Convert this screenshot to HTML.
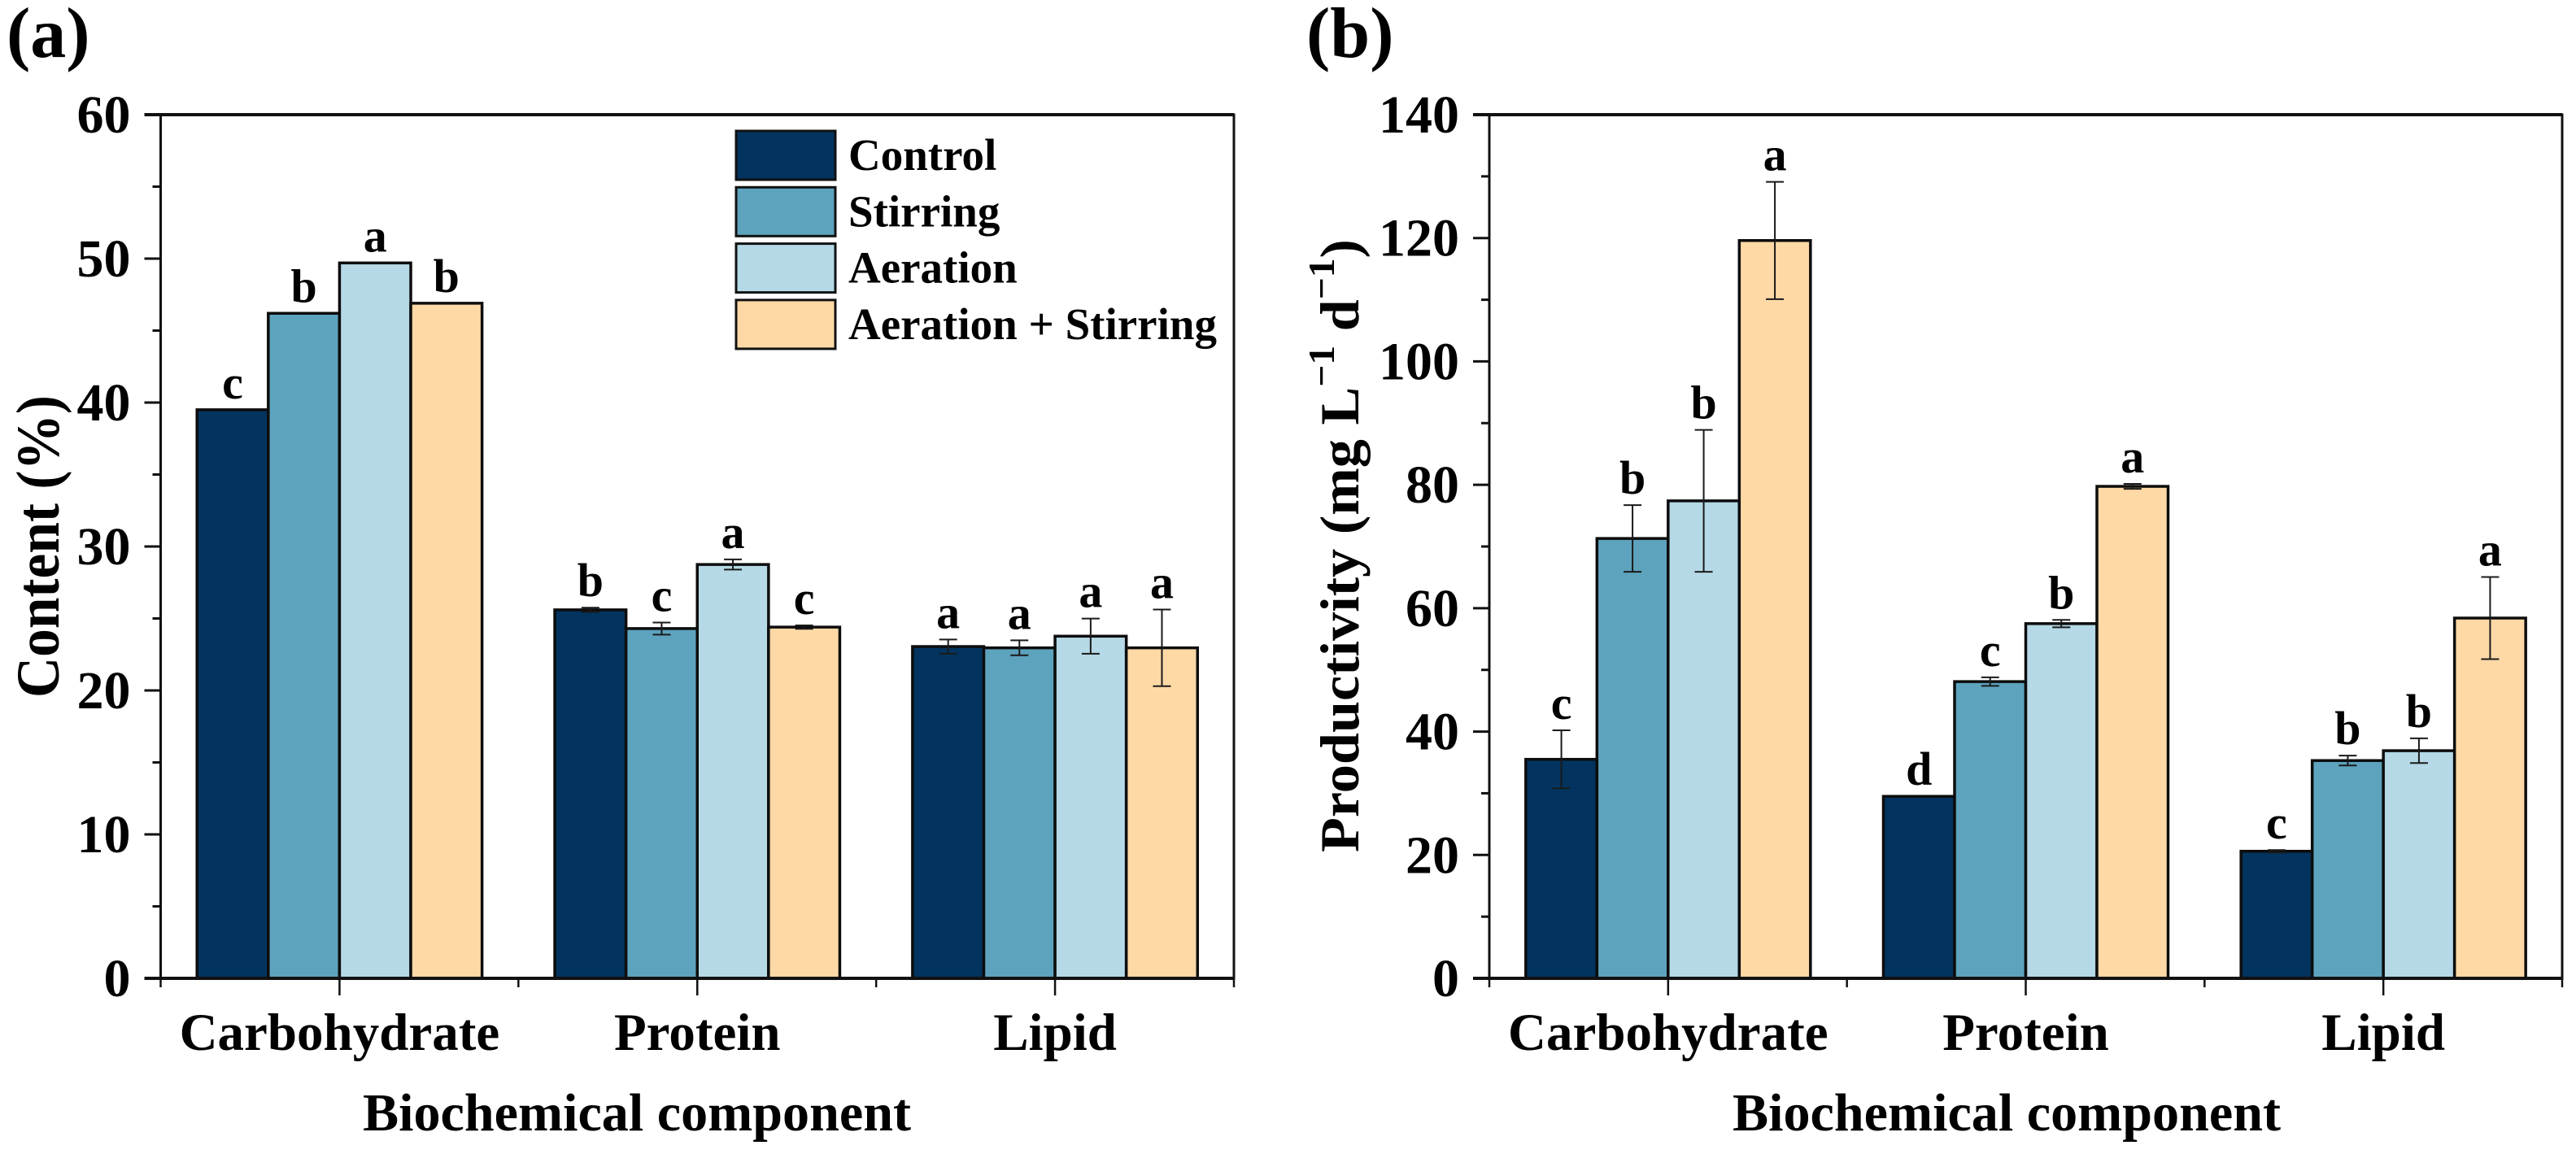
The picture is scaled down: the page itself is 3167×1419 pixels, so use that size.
<!DOCTYPE html>
<html lang="en">
<head>
<meta charset="utf-8">
<title>Biochemical component content and productivity</title>
<style>
html,body{margin:0;padding:0;background:#fff;width:3167px;height:1419px;overflow:hidden}
svg{display:block}
text{font-family:"Liberation Serif",serif;font-weight:bold;fill:#000}
</style>
</head>
<body>
<svg id="chart" xmlns="http://www.w3.org/2000/svg" width="3167" height="1419" viewBox="0 0 3167 1419">
<text x="8" y="70" font-size="88">(a)</text>
<text x="1606" y="70" font-size="88">(b)</text>
<text transform="translate(72,858) rotate(-90)" font-size="75" textLength="372" lengthAdjust="spacingAndGlyphs">Content (%)</text>
<text x="446" y="1390" font-size="66" textLength="674" lengthAdjust="spacingAndGlyphs">Biochemical component</text>
<text transform="translate(1670,1048) rotate(-90) scale(1.033,1)" font-size="68">Productivity (mg L<tspan font-size="46" dy="-30">−1</tspan><tspan dy="30"> d</tspan><tspan font-size="46" dy="-30">−1</tspan><tspan dy="30">)</tspan></text>
<text x="2130" y="1390" font-size="66" textLength="674" lengthAdjust="spacingAndGlyphs">Biochemical component</text>
</svg>
<script>
var categories = ['Carbohydrate', 'Protein', 'Lipid'];
var seriesNames = ['Control', 'Stirring', 'Aeration', 'Aeration + Stirring'];

var contentTicks = [0, 10, 20, 30, 40, 50, 60];
var contentControl = [39.5, 25.6, 23.05];
var contentStirring = [46.2, 24.3, 22.96];
var contentAeration = [49.7, 28.75, 23.77];
var contentBoth = [46.9, 24.4, 22.96];
var contentControlErr = [0, 0.15, 0.49];
var contentStirringErr = [0, 0.42, 0.52];
var contentAerationErr = [0, 0.35, 1.22];
var contentBothErr = [0, 0.12, 2.66];
var contentControlLetters = ['c', 'b', 'a'];
var contentStirringLetters = ['b', 'c', 'a'];
var contentAerationLetters = ['a', 'a', 'a'];
var contentBothLetters = ['b', 'c', 'a'];

var prodTicks = [0, 20, 40, 60, 80, 100, 120, 140];
var prodControl = [35.5, 29.5, 20.6];
var prodStirring = [71.3, 48.1, 35.3];
var prodAeration = [77.4, 57.5, 36.9];
var prodBoth = [119.6, 79.75, 58.4];
var prodControlErr = [4.7, 0, 0.2];
var prodStirringErr = [5.4, 0.7, 0.8];
var prodAerationErr = [11.5, 0.6, 2];
var prodBothErr = [9.5, 0.4, 6.65];
var prodControlLetters = ['c', 'd', 'c'];
var prodStirringLetters = ['b', 'c', 'b'];
var prodAerationLetters = ['b', 'b', 'b'];
var prodBothLetters = ['a', 'a', 'a'];

var seriesColors = ['#02345f', '#5da3bd', '#b5d9e6', '#fed9a6'];
var svgNS = 'http://www.w3.org/2000/svg';
var svg = document.getElementById('chart');

function make(tag, attrs, parent) {
  var el = document.createElementNS(svgNS, tag);
  for (var k in attrs) el.setAttribute(k, attrs[k]);
  parent.appendChild(el);
  return el;
}

function drawPanel(p) {
  var g = make('g', {}, svg);
  
  
  var yMax = p.ticks[p.ticks.length - 1];
  var groupW = (p.right - p.left) / categories.length;
  var barW = p.barW;
  function yScale(v) { return p.bottom - (v / yMax) * (p.bottom - p.top); }
  function xCenter(k) { return p.left + (k + 0.5) * groupW; }
  function xBar(k, s) { return xCenter(k) + (s - seriesNames.length / 2) * barW; }

  for (var s = 0; s < seriesNames.length; s++) {
    for (var k = 0; k < categories.length; k++) {
      var v = p.values[s][k], e = p.errors[s][k];
      var bar = make('rect', {x: xBar(k, s), y: yScale(v), width: barW, height: p.bottom - yScale(v), fill: seriesColors[s], stroke: '#0d0d0d', 'stroke-width': 3.5}, g);
      
      
    }
  }
  for (s = 0; s < seriesNames.length; s++) {
    for (k = 0; k < categories.length; k++) {
      v = p.values[s][k]; e = p.errors[s][k];
      var cx = xBar(k, s) + barW / 2;
      var err = make('path', {d: e > 0 ? 'M' + (cx - 11) + ' ' + yScale(v + e) + 'H' + (cx + 11) + 'M' + cx + ' ' + yScale(v + e) + 'V' + yScale(v - e) + 'M' + (cx - 11) + ' ' + yScale(v - e) + 'H' + (cx + 11) : '', fill: 'none', stroke: '#1a1a1a', 'stroke-width': 2}, g);
      
      
      var letter = make('text', {x: cx, y: yScale(v + e) - 14, 'font-size': 58, 'text-anchor': 'middle'}, g);
      letter.textContent = p.letters[s][k];
      
      
    }
  }

  var frame = make('path', {d: 'M' + p.left + ' ' + p.top + 'H' + p.right + 'V' + p.bottom + 'H' + p.left + 'Z', fill: 'none', stroke: '#111', 'stroke-width': 3}, g);
  
  
  var topLine = make('path', {d: 'M' + (p.left - 20) + ' ' + p.top + 'H' + p.right + 'M' + (p.left - 20) + ' ' + p.bottom + 'H' + p.right, fill: 'none', stroke: '#111', 'stroke-width': 4}, g);
  
  

  for (var i = 0; i < p.ticks.length; i++) {
    var ty = yScale(p.ticks[i]);
    var tick = make('line', {x1: p.left - 20, x2: p.left, y1: ty, y2: ty, stroke: '#111', 'stroke-width': 3}, g);
    
    
    var lab = make('text', {x: p.left - 37, y: ty + 22, 'font-size': 66, 'text-anchor': 'end'}, g);
    lab.textContent = p.ticks[i];
    
    
    if (i < p.ticks.length - 1) {
      var my = yScale((p.ticks[i] + p.ticks[i + 1]) / 2);
      var minor = make('line', {x1: p.left - 10, x2: p.left, y1: my, y2: my, stroke: '#111', 'stroke-width': 3}, g);
      
      
    }
  }
  for (k = 0; k < categories.length; k++) {
    var tx = xCenter(k);
    var xt = make('line', {x1: tx, x2: tx, y1: p.bottom, y2: p.bottom + 21, stroke: '#111', 'stroke-width': 2.5}, g);
    
    
    var xl = make('text', {x: tx, y: 1291, 'font-size': 65, 'text-anchor': 'middle'}, g);
    xl.textContent = categories[k];
    
    
  }
  for (k = 0; k <= categories.length; k++) {
    var mx = p.left + k * groupW;
    var xm = make('line', {x1: mx, x2: mx, y1: p.bottom, y2: p.bottom + 11, stroke: '#111', 'stroke-width': 2.5}, g);
    
    
  }
}

drawPanel({
  id: 'panel-a', left: 197.5, right: 1517, top: 141, bottom: 1203, barW: 87.6, ticks: contentTicks,
  values: [contentControl, contentStirring, contentAeration, contentBoth],
  errors: [contentControlErr, contentStirringErr, contentAerationErr, contentBothErr],
  letters: [contentControlLetters, contentStirringLetters, contentAerationLetters, contentBothLetters]
});
drawPanel({
  id: 'panel-b', left: 1831, right: 3150, top: 141, bottom: 1203, barW: 87.5, ticks: prodTicks,
  values: [prodControl, prodStirring, prodAeration, prodBoth],
  errors: [prodControlErr, prodStirringErr, prodAerationErr, prodBothErr],
  letters: [prodControlLetters, prodStirringLetters, prodAerationLetters, prodBothLetters]
});

var legend = make('g', {}, svg);


for (var n = 0; n < seriesNames.length; n++) {
  var sw = make('rect', {x: 905, y: 161 + n * 69.3, width: 122, height: 60, fill: seriesColors[n], stroke: '#111', 'stroke-width': 3}, legend);
  
  
  var lt = make('text', {x: 1043, y: 209 + n * 69.3, 'font-size': 55}, legend);
  lt.textContent = seriesNames[n];
  
  
}
</script>
</body>
</html>
